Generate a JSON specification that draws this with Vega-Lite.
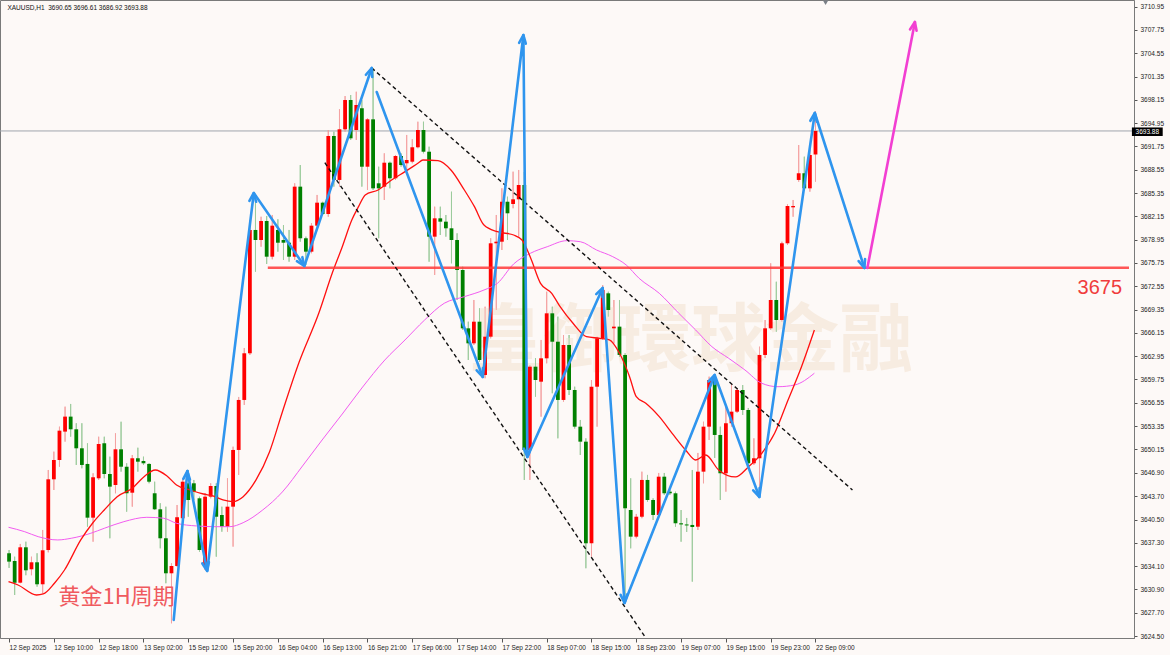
{
  "$schema": "https://vega.github.io/schema/vega-lite/v6.json",
  "width": 1134,
  "height": 638,
  "autosize": {"type": "none"},
  "padding": {"left": 0, "top": 0, "right": 36, "bottom": 17},
  "background": "#fdf9f7",
  "config": {
    "view": {"stroke": "#7a7a7a", "strokeWidth": 1},
    "axis": {"labelOverlap": false, "labelFlush": false, "labelBound": false, "grid": false, "title": null}
  },
  "datasets": {
    "candles": [
      {"i":0,"o":3635.87,"h":3636.32,"l":3633.85,"c":3634.72},
      {"i":1,"o":3634.81,"h":3635.40,"l":3630.14,"c":3631.83},
      {"i":2,"o":3631.83,"h":3637.15,"l":3631.75,"c":3636.69},
      {"i":3,"o":3636.69,"h":3637.46,"l":3632.85,"c":3633.53},
      {"i":4,"o":3633.67,"h":3635.40,"l":3632.85,"c":3634.63},
      {"i":5,"o":3634.63,"h":3635.87,"l":3631.28,"c":3631.61},
      {"i":6,"o":3631.61,"h":3639.07,"l":3630.37,"c":3636.28},
      {"i":7,"o":3636.32,"h":3647.31,"l":3636.00,"c":3646.03},
      {"i":8,"o":3646.03,"h":3649.83,"l":3644.56,"c":3648.68},
      {"i":9,"o":3648.68,"h":3653.26,"l":3647.76,"c":3652.71},
      {"i":10,"o":3652.58,"h":3656.01,"l":3651.20,"c":3654.64},
      {"i":11,"o":3654.64,"h":3656.38,"l":3651.89,"c":3652.90},
      {"i":12,"o":3652.90,"h":3653.73,"l":3648.00,"c":3650.29},
      {"i":13,"o":3650.29,"h":3653.73,"l":3647.54,"c":3648.00},
      {"i":14,"o":3648.14,"h":3650.98,"l":3639.52,"c":3640.76},
      {"i":15,"o":3640.76,"h":3646.86,"l":3637.46,"c":3646.31},
      {"i":16,"o":3646.17,"h":3651.88,"l":3645.94,"c":3650.88},
      {"i":17,"o":3650.98,"h":3651.88,"l":3646.17,"c":3646.76},
      {"i":18,"o":3646.76,"h":3649.14,"l":3637.93,"c":3645.02},
      {"i":19,"o":3645.25,"h":3652.35,"l":3644.11,"c":3650.15},
      {"i":20,"o":3650.15,"h":3653.94,"l":3647.08,"c":3647.76},
      {"i":21,"o":3647.76,"h":3648.23,"l":3641.58,"c":3644.11},
      {"i":22,"o":3644.19,"h":3649.37,"l":3642.27,"c":3648.92},
      {"i":23,"o":3648.92,"h":3650.37,"l":3647.08,"c":3648.45},
      {"i":24,"o":3648.55,"h":3649.14,"l":3648.00,"c":3648.23},
      {"i":25,"o":3648.14,"h":3648.23,"l":3645.48,"c":3645.70},
      {"i":26,"o":3644.11,"h":3645.70,"l":3641.81,"c":3641.91},
      {"i":27,"o":3641.91,"h":3642.74,"l":3636.55,"c":3637.93},
      {"i":28,"o":3637.93,"h":3642.27,"l":3631.75,"c":3633.12},
      {"i":29,"o":3633.12,"h":3634.49,"l":3626.25,"c":3634.12},
      {"i":30,"o":3634.12,"h":3642.50,"l":3634.02,"c":3640.82},
      {"i":31,"o":3640.68,"h":3646.17,"l":3640.44,"c":3645.70},
      {"i":32,"o":3645.48,"h":3647.31,"l":3640.89,"c":3643.19},
      {"i":33,"o":3645.48,"h":3645.94,"l":3643.19,"c":3644.33},
      {"i":34,"o":3643.42,"h":3643.64,"l":3636.09,"c":3636.32},
      {"i":35,"o":3634.03,"h":3644.11,"l":3633.57,"c":3643.64},
      {"i":36,"o":3643.64,"h":3645.48,"l":3643.42,"c":3645.11},
      {"i":37,"o":3645.11,"h":3645.48,"l":3635.40,"c":3640.89},
      {"i":38,"o":3641.13,"h":3642.27,"l":3638.83,"c":3639.52},
      {"i":39,"o":3639.52,"h":3646.17,"l":3638.83,"c":3642.27},
      {"i":40,"o":3642.27,"h":3650.51,"l":3636.78,"c":3650.06},
      {"i":41,"o":3650.06,"h":3657.34,"l":3646.63,"c":3656.93},
      {"i":42,"o":3656.93,"h":3664.07,"l":3656.24,"c":3663.34},
      {"i":43,"o":3663.34,"h":3681.65,"l":3663.11,"c":3680.28},
      {"i":44,"o":3680.28,"h":3685.09,"l":3674.55,"c":3678.90},
      {"i":45,"o":3678.90,"h":3682.10,"l":3677.98,"c":3681.51},
      {"i":46,"o":3681.51,"h":3682.20,"l":3675.61,"c":3676.61},
      {"i":47,"o":3676.61,"h":3682.34,"l":3676.25,"c":3680.87},
      {"i":48,"o":3680.28,"h":3681.75,"l":3677.30,"c":3678.53},
      {"i":49,"o":3678.90,"h":3680.96,"l":3676.16,"c":3678.53},
      {"i":50,"o":3678.53,"h":3680.28,"l":3675.92,"c":3676.61},
      {"i":51,"o":3676.61,"h":3686.69,"l":3676.16,"c":3686.23},
      {"i":52,"o":3686.23,"h":3689.20,"l":3678.67,"c":3679.14},
      {"i":53,"o":3679.14,"h":3679.36,"l":3675.47,"c":3677.30},
      {"i":54,"o":3677.30,"h":3681.20,"l":3677.08,"c":3680.87},
      {"i":55,"o":3680.87,"h":3685.09,"l":3680.73,"c":3684.03},
      {"i":56,"o":3684.03,"h":3684.16,"l":3682.34,"c":3682.47},
      {"i":57,"o":3682.47,"h":3694.01,"l":3682.10,"c":3693.19},
      {"i":58,"o":3693.19,"h":3693.78,"l":3686.23,"c":3687.15},
      {"i":59,"o":3687.15,"h":3696.86,"l":3686.23,"c":3694.11},
      {"i":60,"o":3694.11,"h":3698.68,"l":3693.78,"c":3698.13},
      {"i":61,"o":3698.13,"h":3698.82,"l":3692.64,"c":3692.87},
      {"i":62,"o":3694.01,"h":3699.27,"l":3692.64,"c":3697.45},
      {"i":63,"o":3697.00,"h":3698.13,"l":3686.23,"c":3688.97},
      {"i":64,"o":3688.97,"h":3695.62,"l":3685.77,"c":3695.48},
      {"i":65,"o":3695.48,"h":3702.49,"l":3685.77,"c":3686.00},
      {"i":66,"o":3686.69,"h":3688.97,"l":3679.14,"c":3686.00},
      {"i":67,"o":3686.23,"h":3690.81,"l":3684.40,"c":3689.52},
      {"i":68,"o":3689.52,"h":3689.66,"l":3686.00,"c":3687.38},
      {"i":69,"o":3687.38,"h":3690.58,"l":3687.15,"c":3690.44},
      {"i":70,"o":3690.44,"h":3690.81,"l":3688.97,"c":3689.20},
      {"i":71,"o":3689.44,"h":3693.33,"l":3688.07,"c":3689.89},
      {"i":72,"o":3689.66,"h":3692.74,"l":3689.44,"c":3691.64},
      {"i":73,"o":3691.64,"h":3695.15,"l":3691.50,"c":3694.01},
      {"i":74,"o":3694.01,"h":3695.15,"l":3690.81,"c":3691.03},
      {"i":75,"o":3691.03,"h":3691.72,"l":3675.92,"c":3679.36},
      {"i":76,"o":3679.36,"h":3683.48,"l":3674.10,"c":3681.88},
      {"i":77,"o":3681.88,"h":3683.48,"l":3679.59,"c":3681.42},
      {"i":78,"o":3681.42,"h":3682.34,"l":3679.36,"c":3680.51},
      {"i":79,"o":3680.51,"h":3685.54,"l":3675.70,"c":3678.90},
      {"i":80,"o":3678.90,"h":3679.82,"l":3670.66,"c":3674.78},
      {"i":81,"o":3674.78,"h":3675.23,"l":3666.54,"c":3666.77},
      {"i":82,"o":3666.77,"h":3667.68,"l":3662.42,"c":3664.71},
      {"i":83,"o":3664.71,"h":3670.66,"l":3664.48,"c":3667.68},
      {"i":84,"o":3667.68,"h":3669.52,"l":3662.19,"c":3662.42},
      {"i":85,"o":3660.36,"h":3669.74,"l":3659.91,"c":3665.62},
      {"i":86,"o":3665.62,"h":3679.14,"l":3665.39,"c":3678.45},
      {"i":87,"o":3678.45,"h":3682.34,"l":3669.29,"c":3678.67},
      {"i":88,"o":3678.67,"h":3686.00,"l":3677.53,"c":3684.16},
      {"i":89,"o":3684.16,"h":3684.85,"l":3678.90,"c":3682.57},
      {"i":90,"o":3683.85,"h":3688.29,"l":3683.26,"c":3684.49},
      {"i":91,"o":3684.49,"h":3688.52,"l":3679.36,"c":3686.46},
      {"i":92,"o":3686.46,"h":3688.24,"l":3645.94,"c":3650.06},
      {"i":93,"o":3650.06,"h":3661.73,"l":3645.94,"c":3661.50},
      {"i":94,"o":3661.50,"h":3662.69,"l":3657.38,"c":3659.67},
      {"i":95,"o":3659.44,"h":3665.17,"l":3654.63,"c":3662.65},
      {"i":96,"o":3662.65,"h":3671.80,"l":3661.96,"c":3668.83},
      {"i":97,"o":3668.83,"h":3669.74,"l":3657.85,"c":3664.93},
      {"i":98,"o":3664.93,"h":3668.37,"l":3651.66,"c":3656.93},
      {"i":99,"o":3656.93,"h":3665.85,"l":3656.69,"c":3664.48},
      {"i":100,"o":3664.48,"h":3665.85,"l":3657.61,"c":3658.30},
      {"i":101,"o":3658.30,"h":3658.75,"l":3653.00,"c":3653.26},
      {"i":102,"o":3653.26,"h":3654.18,"l":3649.37,"c":3651.20},
      {"i":103,"o":3651.20,"h":3651.66,"l":3633.81,"c":3637.24},
      {"i":104,"o":3637.24,"h":3659.67,"l":3635.40,"c":3658.75},
      {"i":105,"o":3658.75,"h":3665.62,"l":3653.26,"c":3665.40},
      {"i":106,"o":3665.40,"h":3672.72,"l":3665.17,"c":3672.03},
      {"i":107,"o":3671.58,"h":3671.80,"l":3668.37,"c":3669.29},
      {"i":108,"o":3666.77,"h":3670.66,"l":3664.71,"c":3667.00},
      {"i":109,"o":3667.00,"h":3670.66,"l":3662.83,"c":3663.11},
      {"i":110,"o":3663.11,"h":3663.34,"l":3629.87,"c":3642.05},
      {"i":111,"o":3641.81,"h":3646.17,"l":3636.55,"c":3638.15},
      {"i":112,"o":3638.15,"h":3641.27,"l":3637.93,"c":3640.89},
      {"i":113,"o":3640.89,"h":3647.08,"l":3640.68,"c":3645.94},
      {"i":114,"o":3645.94,"h":3646.63,"l":3642.96,"c":3643.19},
      {"i":115,"o":3643.19,"h":3643.42,"l":3640.44,"c":3641.13},
      {"i":116,"o":3641.13,"h":3646.90,"l":3640.85,"c":3646.39},
      {"i":117,"o":3646.39,"h":3646.90,"l":3643.88,"c":3644.11},
      {"i":118,"o":3644.33,"h":3644.56,"l":3643.88,"c":3644.11},
      {"i":119,"o":3644.11,"h":3644.33,"l":3639.52,"c":3639.99},
      {"i":120,"o":3639.99,"h":3641.81,"l":3637.46,"c":3639.83},
      {"i":121,"o":3639.83,"h":3640.72,"l":3638.80,"c":3639.69},
      {"i":122,"o":3639.76,"h":3647.31,"l":3631.97,"c":3639.48},
      {"i":123,"o":3639.52,"h":3649.65,"l":3639.07,"c":3647.08},
      {"i":124,"o":3647.08,"h":3653.94,"l":3645.48,"c":3653.26},
      {"i":125,"o":3653.26,"h":3660.13,"l":3651.43,"c":3659.67},
      {"i":126,"o":3659.67,"h":3660.36,"l":3648.96,"c":3652.12},
      {"i":127,"o":3652.12,"h":3653.26,"l":3643.19,"c":3646.86},
      {"i":128,"o":3646.86,"h":3656.01,"l":3644.33,"c":3653.73},
      {"i":129,"o":3653.73,"h":3659.22,"l":3653.26,"c":3655.32},
      {"i":130,"o":3655.32,"h":3658.57,"l":3655.14,"c":3658.30},
      {"i":131,"o":3658.30,"h":3658.98,"l":3654.87,"c":3655.55},
      {"i":132,"o":3655.55,"h":3655.83,"l":3647.58,"c":3648.23},
      {"i":133,"o":3648.23,"h":3651.66,"l":3648.00,"c":3648.92},
      {"i":134,"o":3648.92,"h":3664.25,"l":3643.64,"c":3663.11},
      {"i":135,"o":3663.11,"h":3667.91,"l":3662.69,"c":3666.77},
      {"i":136,"o":3666.77,"h":3675.70,"l":3666.54,"c":3670.66},
      {"i":137,"o":3670.66,"h":3673.17,"l":3666.31,"c":3667.91},
      {"i":138,"o":3667.91,"h":3678.67,"l":3667.68,"c":3678.45},
      {"i":139,"o":3678.45,"h":3683.81,"l":3678.22,"c":3683.57},
      {"i":140,"o":3683.39,"h":3684.40,"l":3682.10,"c":3683.57},
      {"i":141,"o":3687.15,"h":3691.95,"l":3686.91,"c":3688.07},
      {"i":142,"o":3688.07,"h":3690.35,"l":3685.77,"c":3686.00},
      {"i":143,"o":3686.00,"h":3691.95,"l":3685.54,"c":3690.58},
      {"i":144,"o":3690.65,"h":3696.61,"l":3686.92,"c":3693.88}
    ],
    "maRed": [
      {"i":-0.1,"p":3631.97},{"i":1.6,"p":3631.51},{"i":4.9,"p":3630.14},{"i":6.1,"p":3630.28},{"i":8.1,"p":3631.75},{"i":9.9,"p":3633.57},{"i":12.8,"p":3637.70},{"i":14.9,"p":3639.99},{"i":17.0,"p":3641.82},{"i":19.3,"p":3643.64},{"i":22.0,"p":3644.80},{"i":24.1,"p":3646.39},{"i":26.1,"p":3647.31},{"i":28.2,"p":3646.49},{"i":29.9,"p":3645.25},{"i":32.3,"p":3644.56},{"i":34.7,"p":3644.01},{"i":36.4,"p":3643.74},{"i":38.2,"p":3643.19},{"i":40.0,"p":3642.96},{"i":41.8,"p":3643.64},{"i":44.1,"p":3645.94},{"i":46.5,"p":3649.78},{"i":48.8,"p":3655.28},{"i":51.8,"p":3662.14},{"i":55.3,"p":3668.83},{"i":57.7,"p":3674.33},{"i":59.5,"p":3677.98},{"i":61.2,"p":3681.65},{"i":62.4,"p":3683.48},{"i":63.6,"p":3685.09},{"i":65.9,"p":3685.77},{"i":68.3,"p":3687.15},{"i":70.7,"p":3688.29},{"i":73.0,"p":3689.44},{"i":73.9,"p":3689.89},{"i":76.6,"p":3689.80},{"i":78.9,"p":3688.52},{"i":81.3,"p":3685.77},{"i":83.1,"p":3683.48},{"i":84.8,"p":3680.96},{"i":87.2,"p":3680.04},{"i":90.1,"p":3679.59},{"i":91.6,"p":3678.90},{"i":93.1,"p":3676.50},{"i":94.9,"p":3672.95},{"i":96.9,"p":3671.58},{"i":98.4,"p":3669.74},{"i":100.7,"p":3667.46},{"i":103.1,"p":3665.62},{"i":105.5,"p":3665.40},{"i":107.2,"p":3665.17},{"i":109.0,"p":3663.34},{"i":110.8,"p":3660.13},{"i":112.0,"p":3657.38},{"i":113.7,"p":3656.47},{"i":116.1,"p":3654.63},{"i":118.4,"p":3652.35},{"i":120.8,"p":3650.06},{"i":122.6,"p":3648.68},{"i":124.4,"p":3649.37},{"i":126.7,"p":3647.31},{"i":129.7,"p":3646.35},{"i":132.0,"p":3647.72},{"i":134.4,"p":3649.60},{"i":136.7,"p":3652.35},{"i":139.1,"p":3656.93},{"i":141.5,"p":3661.50},{"i":143.8,"p":3666.54}
    ],
    "maMag": [
      {"i":-0.1,"p":3639.44},{"i":2.8,"p":3638.83},{"i":5.2,"p":3638.15},{"i":8.7,"p":3637.70},{"i":11.1,"p":3637.93},{"i":14.6,"p":3638.62},{"i":17.0,"p":3639.30},{"i":20.5,"p":3640.21},{"i":24.6,"p":3640.81},{"i":27.6,"p":3640.68},{"i":29.9,"p":3639.99},{"i":33.5,"p":3639.62},{"i":37.0,"p":3639.52},{"i":39.4,"p":3639.52},{"i":41.8,"p":3640.07},{"i":45.3,"p":3641.82},{"i":48.8,"p":3644.29},{"i":52.4,"p":3647.86},{"i":55.9,"p":3651.43},{"i":59.5,"p":3655.00},{"i":63.0,"p":3658.57},{"i":67.1,"p":3662.42},{"i":70.7,"p":3665.17},{"i":74.2,"p":3667.91},{"i":77.7,"p":3670.21},{"i":81.3,"p":3671.12},{"i":84.8,"p":3672.03},{"i":87.2,"p":3672.95},{"i":90.1,"p":3675.61},{"i":93.1,"p":3677.08},{"i":96.1,"p":3677.98},{"i":99.6,"p":3678.81},{"i":102.0,"p":3678.67},{"i":104.9,"p":3677.53},{"i":107.8,"p":3676.61},{"i":110.2,"p":3675.47},{"i":112.5,"p":3673.64},{"i":116.1,"p":3671.58},{"i":119.6,"p":3668.83},{"i":122.6,"p":3666.54},{"i":125.5,"p":3664.25},{"i":128.5,"p":3662.65},{"i":131.4,"p":3661.05},{"i":134.4,"p":3659.22},{"i":137.3,"p":3658.75},{"i":140.3,"p":3658.99},{"i":143.8,"p":3660.60}
    ],
    "trend": [
      {"g":"u","k":0,"i":64.76,"p":3702.53},{"g":"u","k":1,"i":150.6,"p":3644.56},
      {"g":"d","k":0,"i":56.39,"p":3689.52},{"g":"d","k":1,"i":113.7,"p":3624.23}
    ],
    "zig": [
      {"g":"a","k":0,"i":29.4,"p":3626.71},{"g":"a","k":1,"i":31.84,"p":3647.17},{"g":"a","k":2,"i":35.38,"p":3633.44},{"g":"a","k":3,"i":43.70,"p":3685.36},{"g":"a","k":4,"i":52.73,"p":3675.33},{"g":"a","k":5,"i":64.76,"p":3702.53},
      {"g":"b","k":0,"i":65.65,"p":3699.23},{"g":"b","k":1,"i":84.58,"p":3660.09},{"g":"b","k":2,"i":91.84,"p":3707.06},{"g":"b","k":3,"i":92.55,"p":3649.10},{"g":"b","k":4,"i":106.0,"p":3672.31},{"g":"b","k":5,"i":109.9,"p":3629.04},{"g":"b","k":6,"i":126.0,"p":3660.36},{"g":"b","k":7,"i":133.97,"p":3643.60},{"g":"b","k":8,"i":143.88,"p":3696.35},{"g":"b","k":9,"i":152.73,"p":3675.06},
      {"g":"h1","k":0,"i":31.12,"p":3646.08},{"g":"h1","k":1,"i":31.84,"p":3647.17},{"g":"h1","k":2,"i":32.30,"p":3646.00},
      {"g":"h2","k":0,"i":35.68,"p":3634.65},{"g":"h2","k":1,"i":35.38,"p":3633.44},{"g":"h2","k":2,"i":34.51,"p":3634.47},
      {"g":"h3","k":0,"i":42.92,"p":3684.27},{"g":"h3","k":1,"i":43.70,"p":3685.36},{"g":"h3","k":2,"i":44.11,"p":3684.16},
      {"g":"h4","k":0,"i":52.37,"p":3676.54},{"g":"h4","k":1,"i":52.73,"p":3675.33},{"g":"h4","k":2,"i":51.40,"p":3676.00},
      {"g":"h5","k":0,"i":63.72,"p":3701.60},{"g":"h5","k":1,"i":64.76,"p":3702.53},{"g":"h5","k":2,"i":64.85,"p":3701.29},
      {"g":"h6","k":0,"i":84.62,"p":3661.32},{"g":"h6","k":1,"i":84.58,"p":3660.09},{"g":"h6","k":2,"i":83.50,"p":3661.00},
      {"g":"h7","k":0,"i":91.08,"p":3705.98},{"g":"h7","k":1,"i":91.84,"p":3707.06},{"g":"h7","k":2,"i":92.27,"p":3705.87},
      {"g":"h8","k":0,"i":93.13,"p":3650.25},{"g":"h8","k":1,"i":92.55,"p":3649.10},{"g":"h8","k":2,"i":91.93,"p":3650.24},
      {"g":"h9","k":0,"i":104.85,"p":3671.46},{"g":"h9","k":1,"i":106.0,"p":3672.31},{"g":"h9","k":2,"i":105.95,"p":3671.07},
      {"g":"h10","k":0,"i":110.39,"p":3630.22},{"g":"h10","k":1,"i":109.9,"p":3629.04},{"g":"h10","k":2,"i":109.20,"p":3630.15},
      {"g":"h11","k":0,"i":124.90,"p":3659.47},{"g":"h11","k":1,"i":126.0,"p":3660.36},{"g":"h11","k":2,"i":126.0,"p":3659.12},
      {"g":"h12","k":0,"i":134.02,"p":3644.84},{"g":"h12","k":1,"i":133.97,"p":3643.60},{"g":"h12","k":2,"i":132.88,"p":3644.52},
      {"g":"h13","k":0,"i":143.08,"p":3695.28},{"g":"h13","k":1,"i":143.88,"p":3696.35},{"g":"h13","k":2,"i":144.25,"p":3695.15},
      {"g":"h14","k":0,"i":152.85,"p":3676.29},{"g":"h14","k":1,"i":152.73,"p":3675.06},{"g":"h14","k":2,"i":151.70,"p":3676.01}
    ],
    "magArrow": [
      {"g":"m","k":0,"i":153.26,"p":3675.06},{"g":"m","k":1,"i":161.75,"p":3708.85},
      {"g":"mh","k":0,"i":160.88,"p":3707.82},{"g":"mh","k":1,"i":161.75,"p":3708.85},{"g":"mh","k":2,"i":162.05,"p":3707.64}
    ],
    "level": [{"i":46.2,"i2":199.98,"p":3675.1}],
    "last": [{"p":3693.88}]
  },
  "layer": [
    {
      "data": {"name":"candles"},
      "mark": {"type":"rule","strokeWidth":1},
      "encoding": {
        "x": {"field":"i","type":"quantitative","title":null,"scale":{"domain":[-0.726,199.98],"nice":false,"zero":false},
          "axis":{"orient":"bottom","title":null,"grid":false,"tickCount":60,"values":[0,8,16,24,32,40,48,56,64,72,80,88,96,104,112,120,128,136,144],
            "labelExpr":"['12 Sep 2025','12 Sep 10:00','12 Sep 18:00','13 Sep 02:00','15 Sep 12:00','15 Sep 20:00','16 Sep 04:00','16 Sep 13:00','16 Sep 21:00','17 Sep 06:00','17 Sep 14:00','17 Sep 22:00','18 Sep 07:00','18 Sep 15:00','18 Sep 23:00','19 Sep 07:00','19 Sep 15:00','19 Sep 23:00','22 Sep 09:00'][round(datum.value/8)]",
            "labelAlign":"left","labelPadding":2,"labelFont":"Liberation Sans","labelFontSize":6.5,"labelColor":"#1a1a1a","tickSize":4,"tickColor":"#555555","domainColor":"#7a7a7a","labelOverlap":false,"labelFlush":false,"labelBound":false}},
        "y": {"field":"h","type":"quantitative","title":null,"scale":{"domain":[3624.23,3711.87],"nice":false,"zero":false},
          "axis":{"orient":"right","title":null,"grid":false,"tickCount":60,"values":[3624.5,3627.7,3630.9,3634.1,3637.3,3640.5,3643.7,3646.9,3650.15,3653.35,3656.55,3659.75,3662.95,3666.15,3669.35,3672.55,3675.75,3678.95,3682.15,3685.35,3688.55,3691.75,3694.95,3698.15,3701.35,3704.55,3707.75,3710.95],
            "format":".2f","labelFont":"Liberation Sans","labelFontSize":6.5,"labelColor":"#1a1a1a","tickSize":3,"labelPadding":3,"tickColor":"#555555","domainColor":"#7a7a7a","labelOverlap":false,"labelFlush":false,"labelBound":false}},
        "y2": {"field":"l"},
        "color": {"condition":{"test":"datum.c >= datum.o","value":"#f4a2a2"},"value":"#9dcb9d"}
      }
    },
    {
      "data": {"values": [{"t":"皇御環球金融"}]},
      "mark": {"type":"text","font":"Noto Sans CJK TC","fontSize":74,"fontWeight":"bold","color":"#f7ece1","align":"center","baseline":"middle"},
      "encoding": {
        "x": {"datum":121.8,"type":"quantitative","title":null,"scale":{"domain":[-0.726,199.98],"nice":false,"zero":false}},
        "y": {"datum":3664.76,"type":"quantitative","title":null,"scale":{"domain":[3624.23,3711.87],"nice":false,"zero":false}},
        "text": {"field":"t"}
      }
    },
    {
      "data": {"name":"last"},
      "mark": {"type":"rule","color":"#a0a5ad","strokeWidth":1},
      "encoding": {
        "y": {"field":"p","type":"quantitative","title":null,"scale":{"domain":[3624.23,3711.87],"nice":false,"zero":false}}
      }
    },
    {
      "data": {"name":"candles"},
      "mark": {"type":"rule","strokeWidth":1},
      "encoding": {
        "x": {"field":"i","type":"quantitative","title":null,"scale":{"domain":[-0.726,199.98],"nice":false,"zero":false}},
        "y": {"field":"h","type":"quantitative","title":null,"scale":{"domain":[3624.23,3711.87],"nice":false,"zero":false}},
        "y2": {"field":"l"},
        "color": {"condition":{"test":"datum.c >= datum.o","value":"#f4a2a2"},"value":"#9dcb9d"}
      }
    },
    {
      "data": {"name":"candles"},
      "mark": {"type":"bar","size":3.8},
      "encoding": {
        "x": {"field":"i","type":"quantitative","title":null,"scale":{"domain":[-0.726,199.98],"nice":false,"zero":false}},
        "y": {"field":"o","type":"quantitative","title":null,"scale":{"domain":[3624.23,3711.87],"nice":false,"zero":false}},
        "y2": {"field":"c"},
        "color": {"condition":{"test":"datum.c >= datum.o","value":"#ff0000"},"value":"#008000"}
      }
    },
    {
      "data": {"name":"maMag"},
      "mark": {"type":"line","color":"#f25cf0","strokeWidth":1,"interpolate":"monotone"},
      "encoding": {
        "x": {"field":"i","type":"quantitative","title":null,"scale":{"domain":[-0.726,199.98],"nice":false,"zero":false}},
        "y": {"field":"p","type":"quantitative","title":null,"scale":{"domain":[3624.23,3711.87],"nice":false,"zero":false}}
      }
    },
    {
      "data": {"name":"maRed"},
      "mark": {"type":"line","color":"#ff1010","strokeWidth":1.3,"interpolate":"monotone"},
      "encoding": {
        "x": {"field":"i","type":"quantitative","title":null,"scale":{"domain":[-0.726,199.98],"nice":false,"zero":false}},
        "y": {"field":"p","type":"quantitative","title":null,"scale":{"domain":[3624.23,3711.87],"nice":false,"zero":false}}
      }
    },
    {
      "data": {"name":"level"},
      "mark": {"type":"rule","color":"#ff3a3a","strokeWidth":2.6,"opacity":0.85},
      "encoding": {
        "x": {"field":"i","type":"quantitative","title":null,"scale":{"domain":[-0.726,199.98],"nice":false,"zero":false}},
        "x2": {"field":"i2"},
        "y": {"field":"p","type":"quantitative","title":null,"scale":{"domain":[3624.23,3711.87],"nice":false,"zero":false}}
      }
    },
    {
      "data": {"name":"trend"},
      "mark": {"type":"line","color":"#111111","strokeWidth":1.4,"strokeDash":[4,3],"clip":true},
      "encoding": {
        "x": {"field":"i","type":"quantitative","title":null,"scale":{"domain":[-0.726,199.98],"nice":false,"zero":false}},
        "y": {"field":"p","type":"quantitative","title":null,"scale":{"domain":[3624.23,3711.87],"nice":false,"zero":false}},
        "detail": {"field":"g"},
        "order": {"field":"k"}
      }
    },
    {
      "data": {"name":"zig"},
      "mark": {"type":"line","color":"#2f95ee","strokeWidth":2.6,"strokeCap":"round","strokeJoin":"round"},
      "encoding": {
        "x": {"field":"i","type":"quantitative","title":null,"scale":{"domain":[-0.726,199.98],"nice":false,"zero":false}},
        "y": {"field":"p","type":"quantitative","title":null,"scale":{"domain":[3624.23,3711.87],"nice":false,"zero":false}},
        "detail": {"field":"g"},
        "order": {"field":"k"}
      }
    },
    {
      "data": {"name":"magArrow"},
      "mark": {"type":"line","color":"#f23fd2","strokeWidth":2.6,"strokeCap":"round","strokeJoin":"round"},
      "encoding": {
        "x": {"field":"i","type":"quantitative","title":null,"scale":{"domain":[-0.726,199.98],"nice":false,"zero":false}},
        "y": {"field":"p","type":"quantitative","title":null,"scale":{"domain":[3624.23,3711.87],"nice":false,"zero":false}},
        "detail": {"field":"g"},
        "order": {"field":"k"}
      }
    },
    {
      "data": {"values": [{"t":"3675"}]},
      "mark": {"type":"text","font":"Liberation Sans","fontSize":20,"color":"#f03c3c","align":"center","baseline":"middle"},
      "encoding": {
        "x": {"datum":194.76,"type":"quantitative","title":null,"scale":{"domain":[-0.726,199.98],"nice":false,"zero":false}},
        "y": {"datum":3672.31,"type":"quantitative","title":null,"scale":{"domain":[3624.23,3711.87],"nice":false,"zero":false}},
        "text": {"field":"t"}
      }
    },
    {
      "data": {"values": [{"t":"黄金1H周期"}]},
      "mark": {"type":"text","font":"Noto Sans CJK SC","fontSize":22,"color":"#f05a5e","align":"center","baseline":"middle"},
      "encoding": {
        "x": {"datum":19.19,"type":"quantitative","title":null,"scale":{"domain":[-0.726,199.98],"nice":false,"zero":false}},
        "y": {"datum":3629.87,"type":"quantitative","title":null,"scale":{"domain":[3624.23,3711.87],"nice":false,"zero":false}},
        "text": {"field":"t"}
      }
    },
    {
      "data": {"values": [{"t":"XAUUSD,H1\u00a0\u00a03690.65 3696.61 3686.92 3693.88"}]},
      "mark": {"type":"text","font":"Liberation Sans","fontSize":6.5,"color":"#111111","align":"left","baseline":"middle"},
      "encoding": {
        "x": {"datum":-0.3,"type":"quantitative","title":null,"scale":{"domain":[-0.726,199.98],"nice":false,"zero":false}},
        "y": {"datum":3710.77,"type":"quantitative","title":null,"scale":{"domain":[3624.23,3711.87],"nice":false,"zero":false}},
        "text": {"field":"t"}
      }
    },
    {
      "data": {"values": [{}]},
      "mark": {"type":"rect","color":"#000000","clip":false},
      "encoding": {
        "x": {"datum":200.5,"type":"quantitative","title":null,"scale":{"domain":[-0.726,199.98],"nice":false,"zero":false}},
        "x2": {"datum":206.0},
        "y": {"datum":3694.36,"type":"quantitative","title":null,"scale":{"domain":[3624.23,3711.87],"nice":false,"zero":false}},
        "y2": {"datum":3693.19}
      }
    },
    {
      "data": {"values": [{"t":"3693.88"}]},
      "mark": {"type":"text","font":"Liberation Sans","fontSize":6.5,"color":"#ffffff","align":"center","baseline":"middle","clip":false},
      "encoding": {
        "x": {"datum":203.25,"type":"quantitative","title":null,"scale":{"domain":[-0.726,199.98],"nice":false,"zero":false}},
        "y": {"datum":3693.78,"type":"quantitative","title":null,"scale":{"domain":[3624.23,3711.87],"nice":false,"zero":false}},
        "text": {"field":"t"}
      }
    },
    {
      "data": {"values": [{}]},
      "mark": {"type":"point","shape":"triangle-down","size":28,"filled":true,"color":"#7b8087","opacity":1},
      "encoding": {
        "x": {"datum":145.8,"type":"quantitative","title":null,"scale":{"domain":[-0.726,199.98],"nice":false,"zero":false}},
        "y": {"datum":3711.5,"type":"quantitative","title":null,"scale":{"domain":[3624.23,3711.87],"nice":false,"zero":false}}
      }
    }
  ]
}
